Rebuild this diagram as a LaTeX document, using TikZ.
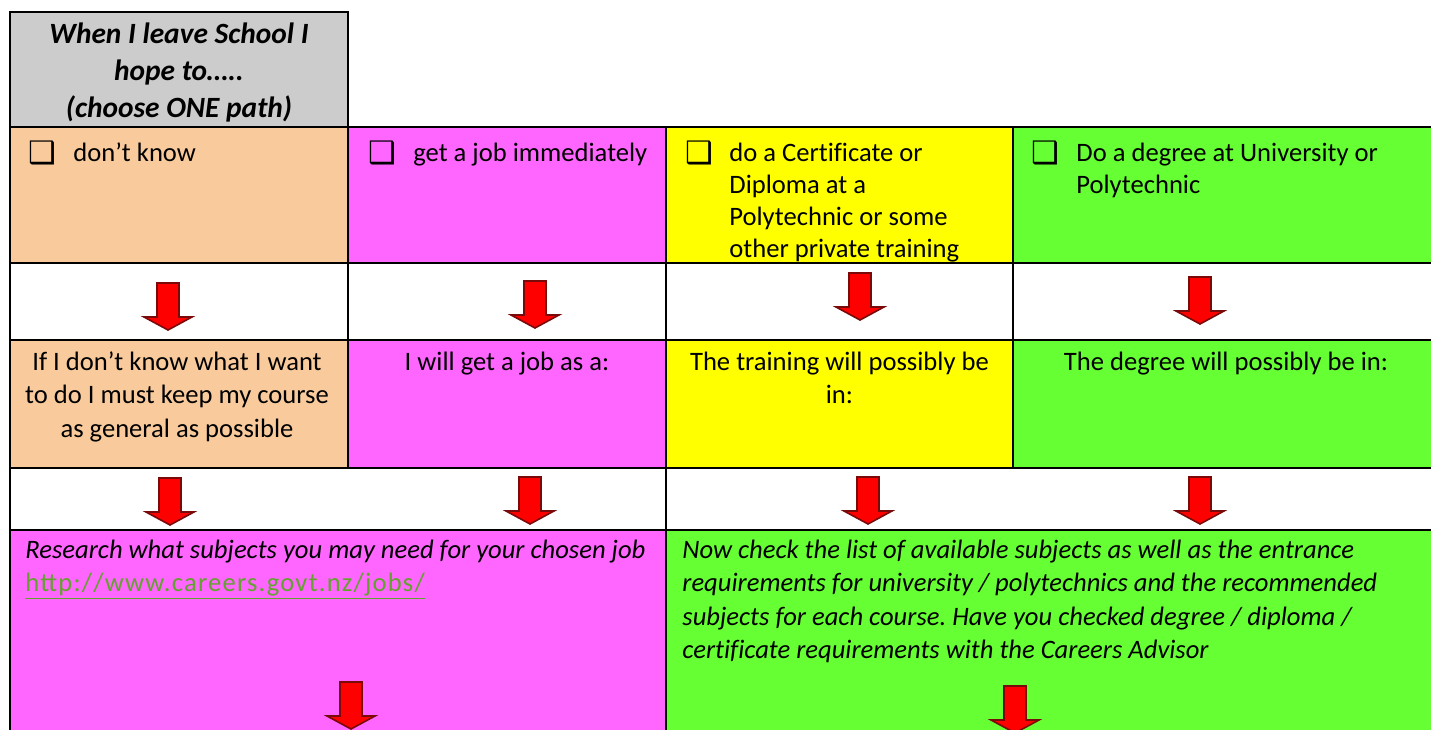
\documentclass[tikz,border=0pt]{standalone}
\usepackage{fontspec}
\setmainfont{Carlito}[Ligatures=CommonOff]
\newfontfamily\dejavu{DejaVu Sans}
\newfontfamily\linkfont[LetterSpace=4.5]{Carlito}
\definecolor{cgray}{HTML}{CCCCCC}
\definecolor{cpeach}{HTML}{F9CB9C}
\definecolor{cmag}{HTML}{FF66FF}
\definecolor{cyel}{HTML}{FFFF00}
\definecolor{cgreen}{HTML}{66FF33}
\definecolor{clink}{HTML}{63A22E}
\definecolor{carrred}{HTML}{FF0000}
\definecolor{carredge}{HTML}{7A0A0A}
\tikzset{
  grid/.style={line width=1.1pt, black},
  body/.style={inner sep=0pt, font=\fontsize{13.3}{16}\selectfont},
  bodyb/.style={inner sep=0pt, font=\fontsize{13.3}{16.75}\selectfont},
  hdrtext/.style={inner sep=0pt, align=center, font=\fontsize{14.7}{18.5}\selectfont\bfseries\itshape},
  ital/.style={inner sep=0pt, font=\fontsize{13.3}{16.75}\selectfont\itshape},
  cbox/.style={inner sep=0pt, anchor=base west, font=\dejavu\fontsize{15.5}{18}\selectfont},
  downarr/.pic={
    \filldraw[fill=carrred, draw=carredge, line width=0.8pt, line join=miter]
      (-11,0) -- (11,0) -- (11,34) -- (24,34) -- (0,47) -- (-24,34) -- (-11,34) -- cycle;
  }
}
\frenchspacing
\begin{document}
\begin{tikzpicture}[x=0.5pt,y=-0.5pt]
\useasboundingbox (0,0) rectangle (1431,729);
\clip (0,0) rectangle (1431,729);
% fills
\fill[cgray]  (10,12) rectangle (348,127);
\fill[cpeach] (10,127) rectangle (348,263);
\fill[cmag]   (348,127) rectangle (666,263);
\fill[cyel]   (666,127) rectangle (1013,263);
\fill[cgreen] (1013,127) rectangle (1450,263);
\fill[cpeach] (10,340) rectangle (348,468);
\fill[cmag]   (348,340) rectangle (666,468);
\fill[cyel]   (666,340) rectangle (1013,468);
\fill[cgreen] (1013,340) rectangle (1450,468);
\fill[cmag]   (10,530) rectangle (666,740);
\fill[cgreen] (666,530) rectangle (1450,740);
% grid
\draw[grid] (10,127) -- (10,12) -- (348,12) -- (348,127);
\draw[grid] (10,127) -- (1450,127);
\draw[grid] (10,263) -- (1450,263);
\draw[grid] (10,340) -- (1450,340);
\draw[grid] (10,468) -- (1450,468);
\draw[grid] (10,530) -- (1450,530);
\draw[grid] (10,127) -- (10,740);
\draw[grid] (348,127) -- (348,468);
\draw[grid] (666,127) -- (666,740);
\draw[grid] (1013,127) -- (1013,468);
% header
\node[hdrtext, anchor=north] (hdr) at (179,17.1) {\strut When I leave School I\\hope to…..\\(choose ONE path)};
% row 1
\node[cbox] (cb1) at (28,163) {❑};
\node[body, anchor=base west] (t1) at (73,161) {don’t know};
\node[cbox] (cb2) at (368,163) {❑};
\node[body, anchor=base west] (t2) at (413,161) {get a job immediately};
\node[cbox] (cb3) at (685,163) {❑};
\node[body, align=left, anchor=north west] (t3) at (729,138.6) {\strut do a Certificate or\\Diploma at a\\Polytechnic or some\\other private training};
\node[cbox] (cb4) at (1031,163) {❑};
\node[body, align=left, anchor=north west] (t4) at (1076,138.6) {\strut Do a degree at University or\\Polytechnic};
% row 2 arrows
\pic (a1) at (168,283) {downarr};
\pic (a2) at (535,281) {downarr};
\pic (a3) at (860,273) {downarr};
\pic (a4) at (1200,277) {downarr};
% row 3
\node[bodyb, align=center, anchor=north] (s1) at (177,346.5) {\strut If I don’t know what I want\\to do I must keep my course\\as general as possible};
\node[bodyb, align=center, anchor=north] (s2) at (507,346.5) {\strut I will get a job as a:};
\node[bodyb, align=center, anchor=north] (s3) at (839.5,346.5) {\strut The training will possibly be\\in:};
\node[bodyb, align=center, anchor=north] (s4) at (1226,346.5) {\strut The degree will possibly be in:};
% row 4 arrows
\pic (b1) at (170,478) {downarr};
\pic (b2) at (530,477) {downarr};
\pic (b3) at (868,477) {downarr};
\pic (b4) at (1200,477) {downarr};
% row 5
\node[ital, anchor=base west] (r1) at (25,558) {Research what subjects you may need for your chosen job};
\node[inner sep=0pt, anchor=base west, font=\linkfont\fontsize{13.3}{16.75}\selectfont, text=clink] (lnk) at (25,591) {\underline{http://www.careers.govt.nz/jobs/}};
\node[ital, align=left, anchor=north west] (r2) at (682,534.6) {\strut Now check the list of available subjects as well as the entrance\\requirements for university / polytechnics and the recommended\\subjects for each course. Have you checked degree / diploma /\\certificate requirements with the Careers Advisor};
% row 5 arrows
\pic (c1) at (351,682) {downarr};
\pic (c2) at (1015,686) {downarr};
\end{tikzpicture}
\end{document}
